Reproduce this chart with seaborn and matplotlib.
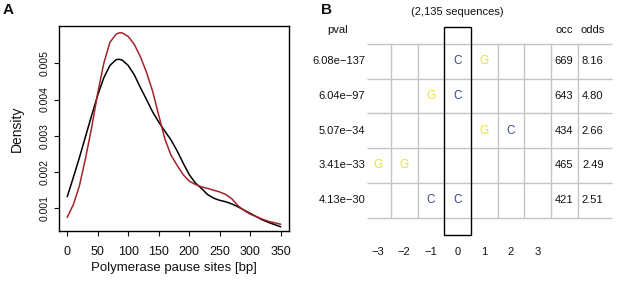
import numpy as np
import pandas as pd
import matplotlib
matplotlib.use("Agg")
import matplotlib.pyplot as plt
import seaborn as sns
from matplotlib.patches import Rectangle

# Panel A: density of pause-site distance (two groups)
pause_bp = [0, 10, 20, 30, 40, 50, 60, 70, 80, 85, 90, 100, 110, 120, 130, 140,
            150, 160, 170, 180, 190, 200, 210, 220, 230, 240, 250, 260, 270,
            280, 290, 300, 310, 320, 330, 340, 350]
density_black = [0.00132, 0.00185, 0.00240, 0.00298, 0.00356, 0.00412, 0.00460,
                 0.00494, 0.00510, 0.00511, 0.00509, 0.00494, 0.00468, 0.00433,
                 0.00400, 0.00366, 0.00338, 0.00313, 0.00289, 0.00259, 0.00225,
                 0.00193, 0.00170, 0.00155, 0.00138, 0.00128, 0.00122, 0.00118,
                 0.00112, 0.00104, 0.00095, 0.00086, 0.00077, 0.00068, 0.00061,
                 0.00055, 0.00049]
density_red = [0.00075, 0.00110, 0.00162, 0.00238, 0.00322, 0.00418, 0.00500,
               0.00558, 0.00580, 0.00584, 0.00584, 0.00574, 0.00552, 0.00518,
               0.00475, 0.00423, 0.00357, 0.00292, 0.00247, 0.00219, 0.00193,
               0.00175, 0.00166, 0.00159, 0.00155, 0.00150, 0.00145, 0.00138,
               0.00126, 0.00107, 0.00094, 0.00084, 0.00077, 0.00070, 0.00064,
               0.00060, 0.00056]

# Panel B: motif table
pvals = ["6.08e\u2212137", "6.04e\u221297", "5.07e\u221234", "3.41e\u221233", "4.13e\u221230"]
motifs = ["...CG..", "..GC...", "....GC.", "GG.....", "..CC..."]
occ = [669, 643, 434, 465, 421]
odds = ["8.16", "4.80", "2.66", "2.49", "2.51"]
positions = [-3, -2, -1, 0, 1, 2, 3]
base_colors = {"C": "#3c4a8a", "G": "#e6e23a"}

sns.set_style("ticks")
plt.rcParams["font.family"] = ["Liberation Sans", "DejaVu Sans"]
plt.rcParams.update({"text.color": "#111111", "axes.labelcolor": "#111111",
                     "xtick.color": "#111111", "ytick.color": "#111111"})

fig = plt.figure(figsize=(6.17, 2.84), dpi=100)

# ---- A ----
ax = fig.add_axes([0.0951, 0.1856, 0.3737, 0.7239])
df = pd.DataFrame({
    "bp": pause_bp * 2,
    "density": density_black + density_red,
    "group": ["black"] * len(pause_bp) + ["red"] * len(pause_bp),
})
sns.lineplot(data=df, x="bp", y="density", hue="group",
             palette={"black": "black", "red": "#a3232b"},
             linewidth=1.1, legend=False, ax=ax)
ax.set_xlim(-14, 364)
ax.set_ylim(0.000366, 0.006037)
ax.set_xticks(range(0, 351, 50))
ax.set_yticks([0.001, 0.002, 0.003, 0.004, 0.005])
ax.set_yticklabels(["0.001", "0.002", "0.003", "0.004", "0.005"],
                   rotation=90, va="center")
ax.tick_params(axis="x", labelsize=9, length=3.5, width=0.8, pad=7)
ax.tick_params(axis="y", labelsize=7.5, length=3.5, width=0.8, pad=3)
for s in ax.spines.values():
    s.set_linewidth(1.0)
    s.set_color("black")
ax.set_xlabel("Polymerase pause sites [bp]", fontsize=9.5)
ax.set_ylabel("Density", fontsize=10)
ax.xaxis.set_label_coords(0.5, -0.15)
ax.yaxis.set_label_coords(-0.15, 0.5)
fig.text(0.005, 0.965, "A", fontsize=11, fontweight="bold", va="center")

# ---- B ----
bx = fig.add_axes([310 / 617, 0, 307 / 617, 1])
bx.set_xlim(-5.532, 5.970)
bx.set_ylim(6.416, -1.767)
bx.axis("off")

grid_c = "#c4c4c4"
bx.hlines(np.arange(-0.5, 5.0, 1.0), -3.41, 5.77, color=grid_c, lw=1.0)
bx.vlines([-2.5, -1.5, 1.5, 2.5, 3.5, 4.5], -0.5, 4.5, color=grid_c, lw=1.0)
bx.add_patch(Rectangle((-0.5, -1.0), 1.0, 6.0, fill=False,
                       edgecolor="black", lw=1.0, zorder=3))

for i, (pv, m, oc, od) in enumerate(zip(pvals, motifs, occ, odds)):
    bx.text(-3.47, i, pv, ha="right", va="center", fontsize=8)
    for pos, base in zip(positions, m):
        if base != ".":
            bx.text(pos, i, base, ha="center", va="center", fontsize=8.5,
                    color=base_colors[base])
    bx.text(3.99, i, str(oc), ha="center", va="center", fontsize=8)
    bx.text(5.06, i, od, ha="center", va="center", fontsize=8)

for pos in positions:
    lab = str(pos).replace("-", "\u2212")
    bx.text(pos, 5.48, lab, ha="center", va="center", fontsize=8)

bx.text(-4.48, -0.91, "pval", ha="center", va="center", fontsize=8)
bx.text(3.99, -0.91, "occ", ha="center", va="center", fontsize=8)
bx.text(5.06, -0.91, "odds", ha="center", va="center", fontsize=8)
bx.text(0, -1.43, "(2,135 sequences)", ha="center", va="center", fontsize=8)
fig.text(321 / 617, 0.965, "B", fontsize=11, fontweight="bold", va="center")

fig.savefig("out.png", dpi=100)
